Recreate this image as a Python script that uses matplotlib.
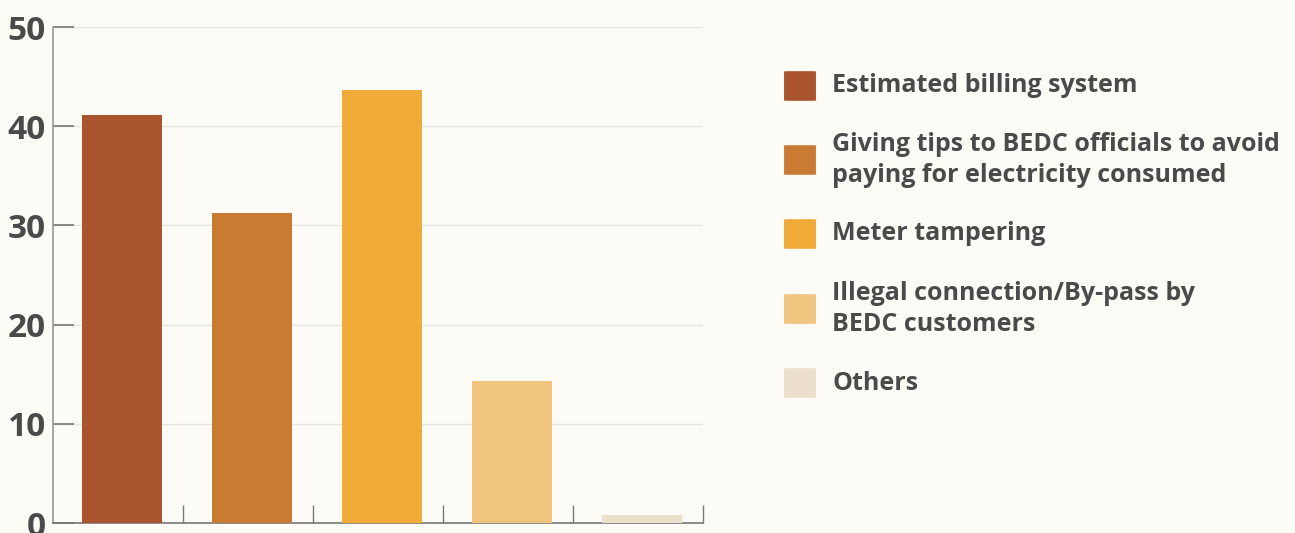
import numpy as np
import matplotlib.pyplot as plt
from matplotlib.patches import FancyBboxPatch

# data
categories = ['Estimated billing system',
              'Giving tips to BEDC officials to avoid\npaying for electricity consumed',
              'Meter tampering',
              'Illegal connection/By-pass by\nBEDC customers',
              'Others']
values = [41.1, 31.2, 43.6, 14.3, 0.8]
colors = ['#A9532F', '#C97A33', '#F0AB38', '#F0C580', '#EBDFCB']
yticks = [0, 10, 20, 30, 40, 50]

bg = '#FCFBF6'
txt = '#4A4A4A'
plt.rcParams['font.family'] = ['Open Sans', 'DejaVu Sans']

fig = plt.figure(figsize=(12.95, 5.33), dpi=100, facecolor=bg)
ax = fig.add_axes([53/1295, 10/533, 650/1295, 496/533], facecolor=bg)

x = np.arange(len(values))
ax.bar(x + 0.03, values, width=0.62, color=colors, zorder=3)

ax.set_xlim(-0.5, len(values) - 0.5)
ax.set_ylim(0, 50)
ax.set_yticks(yticks)
ax.set_yticklabels([str(t) for t in yticks], fontsize=24, fontweight='bold', color=txt)
ax.set_xticks(x + 0.5)
ax.set_xticklabels([])
ax.tick_params(axis='y', direction='in', length=15, width=1.2, color='#777777', pad=5)
ax.tick_params(axis='x', direction='in', length=13, width=1, color='#777777')
ax.grid(axis='y', color='#E6E4DE', linewidth=1, zorder=0)
for s in ['top', 'right']:
    ax.spines[s].set_visible(False)
ax.spines['left'].set_color('#999999')
ax.spines['bottom'].set_color('#777777')
ax.spines['left'].set_linewidth(1.2)
ax.spines['bottom'].set_linewidth(1.2)

# legend drawn by hand
ys = [86, 160, 234, 309, 383]
for lab, c, yc in zip(categories, colors, ys):
    fy = 1 - yc / 533
    fig.patches.append(FancyBboxPatch((786/1295, fy - 14/533), 28/1295, 28/533,
                                      boxstyle='round,pad=0.0015', transform=fig.transFigure,
                                      facecolor=c, edgecolor='none'))
    fig.text(832/1295, fy, lab, fontsize=18, fontweight='bold', color=txt,
             va='center', ha='left', linespacing=1.3)

fig.savefig('out.png', dpi=100, facecolor=bg)
